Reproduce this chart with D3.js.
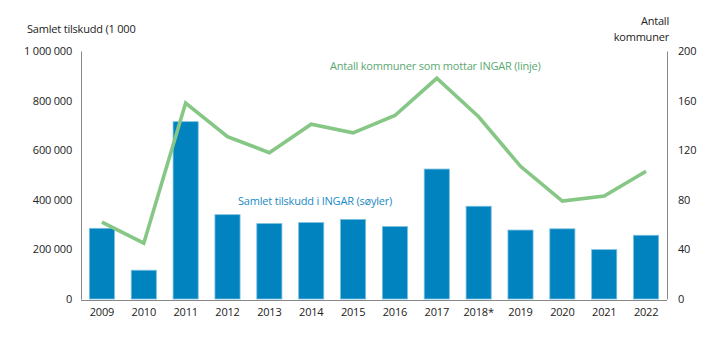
<!DOCTYPE html>
<html><head><meta charset="utf-8">
<script src="https://cdn.jsdelivr.net/npm/d3@7"></script>
<style>body{margin:0;background:#fff}svg{display:block}text{font-family:"Open Sans",sans-serif;letter-spacing:-0.2px}</style>
</head><body><svg id="c" width="719" height="341"></svg>
<script>
const years = ["2009","2010","2011","2012","2013","2014","2015","2016","2017","2018*","2019","2020","2021","2022"];
const tilskudd = [285000,116000,715000,340000,304000,308000,321000,292000,524000,374000,278000,283000,199000,257000];
const kommuner = [62,45,158,131,118,141,134,148,178,147,107,79,83,103];
const leftTicks = [0,200000,400000,600000,800000,1000000];
const rightTicks = [0,40,80,120,160,200];

const svg = d3.select("#c");
const L = 81, R = 667, T = 51, B = 299;
const FS = 11, FF = "'Open Sans',sans-serif";
const x = d3.scaleBand().domain(years).range([L,R]).paddingInner(0.4).paddingOuter(0.2);
const yL = d3.scaleLinear().domain([0,1000000]).range([B,T]);
const yR = d3.scaleLinear().domain([0,200]).range([B,T]);
const fmt = v => d3.format(",")(v).replace(/,/g," ");

svg.append("g").selectAll("rect").data(years).join("rect")
  .attr("x", d=>x(d)).attr("width", x.bandwidth())
  .attr("y", (d,i)=>yL(tilskudd[i])).attr("height",(d,i)=>B-yL(tilskudd[i]))
  .attr("fill","#0083be").attr("stroke","#7cc0e0").attr("stroke-width",0.8);

const line = d3.line().x((d,i)=>x(years[i])+x.bandwidth()/2).y(d=>yR(d));
svg.append("path").datum(kommuner).attr("d",line).attr("fill","none")
  .attr("stroke","#86c785").attr("stroke-width",3.6).attr("stroke-linejoin","miter");

const axL = d3.axisLeft(yL).tickValues(leftTicks).tickSize(0).tickPadding(9).tickFormat(fmt);
const gL = svg.append("g").attr("transform",`translate(${L},0)`).call(axL);
const axR = d3.axisRight(yR).tickValues(rightTicks).tickSize(0).tickPadding(11);
const gR = svg.append("g").attr("transform",`translate(${R},0)`).call(axR);
const axB = d3.axisBottom(x).tickSize(0).tickPadding(8);
const gB = svg.append("g").attr("transform",`translate(0,${B+1})`).call(axB);
[gL,gR,gB].forEach(g=>{
  g.selectAll("text").attr("font-family",FF).attr("font-size",FS).attr("fill","#222");
  g.select(".domain").attr("stroke","#888").attr("stroke-width",1);
});
gB.select(".domain").attr("d",`M${L},0.5H${R}`);

const t = (xx,yy,s,anchor,col) => svg.append("text").attr("x",xx).attr("y",yy).attr("text-anchor",anchor)
  .attr("font-family",FF).attr("font-size",FS).attr("fill",col).text(s);
t(27,33,"Samlet tilskudd (1 000","start","#222");
t(669,25,"Antall","end","#222");
t(669,41,"kommuner","end","#222");
t(330,70,"Antall kommuner som mottar INGAR (linje)","start","#5aa870");
t(238,205,"Samlet tilskudd i INGAR (søyler)","start","#1a8ac6");
</script></body></html>
